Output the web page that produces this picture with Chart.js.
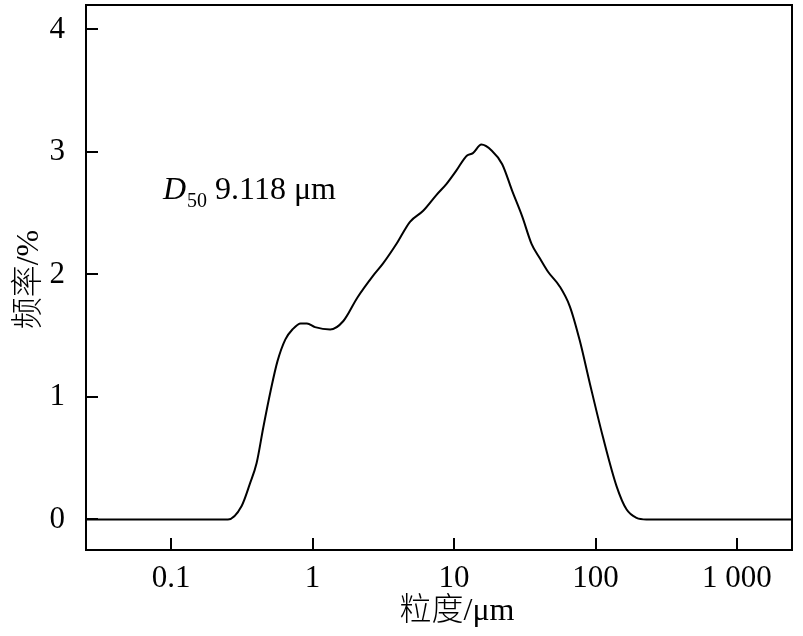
<!DOCTYPE html>
<html>
<head>
<meta charset="utf-8">
<script src="https://cdn.jsdelivr.net/npm/chart.js@4/dist/chart.umd.min.js"></script>
<style>
  html, body { margin: 0; padding: 0; background: #fff; }
  #wrap { width: 803px; height: 636px; }
</style>
</head>
<body>
<div id="wrap"><canvas id="psdChart"></canvas></div>
<script>
// particle size (um) and frequency (%)
const sizes = [0.025, 0.252, 0.315, 0.360, 0.402, 0.448, 0.505, 0.564, 0.642, 0.720,
               0.824, 0.912, 1.04, 1.33, 1.65, 2.07, 2.68, 3.15, 3.92, 4.88,
               6.05, 7.52, 8.85, 10.4, 12.3, 13.6, 15.6, 18.5, 21.9, 25.8,
               30.4, 35.3, 40.5, 46.3, 56.0, 65.8, 77.4, 91.2, 113, 141,
               166, 195, 229, 2450];
const freq = [0, 0, 0.11, 0.29, 0.46, 0.75, 1.05, 1.29, 1.47, 1.55,
              1.60, 1.60, 1.57, 1.55, 1.62, 1.81, 1.99, 2.09, 2.25, 2.43,
              2.52, 2.65, 2.74, 2.85, 2.97, 2.99, 3.06, 3.01, 2.90, 2.68,
              2.47, 2.25, 2.13, 2.02, 1.90, 1.74, 1.46, 1.11, 0.67, 0.27,
              0.08, 0.013, 0, 0];

const xTicks = [0.1, 1, 10, 100, 1000];
const xTickLabels = ['0.1', '1', '10', '100', '1 000'];
const yTicks = [0, 1, 2, 3, 4];
const xTitle = '粒度/μm';
const yTitle = '频率/%';

const SERIF = '"Liberation Serif", "Times New Roman", serif';
const TITLE_FONT = '300 32px "Liberation Serif", "Noto Sans CJK SC", serif';

// box round the plot, inward tick marks, axis titles and the D50 note
const framePlugin = {
    id: 'frame',
    afterDraw(chart) {
        const ctx = chart.ctx;
        const a = chart.chartArea;
        const xs = chart.scales.x;
        const ys = chart.scales.y;
        ctx.save();
        ctx.strokeStyle = '#000';
        ctx.lineWidth = 2;
        ctx.strokeRect(a.left, a.top, a.right - a.left, a.bottom - a.top);

        ctx.beginPath();
        xs.ticks.forEach(t => {
            const px = Math.round(xs.getPixelForValue(t.value));
            ctx.moveTo(px, a.bottom);
            ctx.lineTo(px, a.bottom - 12);
        });
        ys.ticks.forEach(t => {
            const py = Math.round(ys.getPixelForValue(t.value));
            ctx.moveTo(a.left, py);
            ctx.lineTo(a.left + 12, py);
        });
        ctx.stroke();

        // axis titles
        ctx.fillStyle = '#000';
        ctx.font = TITLE_FONT;
        ctx.textAlign = 'center';
        ctx.textBaseline = 'middle';
        ctx.fillText(xTitle, (a.left + a.right) / 2 + 18, 612);
        ctx.save();
        ctx.translate(30, (a.top + a.bottom) / 2 + 2);
        ctx.rotate(-Math.PI / 2);
        ctx.fillText(yTitle, 0, 0);
        ctx.restore();

        // D50 note
        ctx.textAlign = 'left';
        ctx.textBaseline = 'alphabetic';
        let tx = xs.getPixelForValue(0.0875);
        const ty = ys.getPixelForValue(2.62);
        ctx.font = 'italic 32px ' + SERIF;
        ctx.fillText('D', tx, ty);
        tx += ctx.measureText('D').width + 1;
        ctx.font = '20px ' + SERIF;
        ctx.fillText('50', tx, ty + 8);
        tx += ctx.measureText('50').width;
        ctx.font = '32px ' + SERIF;
        ctx.fillText(' 9.118 \u03bcm', tx, ty);
        ctx.restore();
    }
};

function noEdgePadding(scale) {
    scale.paddingTop = 0;
    scale.paddingBottom = 0;
    scale.paddingLeft = 0;
    scale.paddingRight = 0;
}

new Chart(document.getElementById('psdChart'), {
    type: 'line',
    data: {
        datasets: [{
            data: sizes.map((s, i) => ({ x: s, y: freq[i] })),
            borderColor: '#000',
            borderWidth: 2,
            pointRadius: 0,
            fill: false,
            cubicInterpolationMode: 'monotone'
        }]
    },
    options: {
        responsive: true,
        maintainAspectRatio: false,
        animation: false,
        layout: {
            padding: { top: 5, right: 11, left: 0, bottom: 0 }
        },
        plugins: {
            legend: { display: false },
            tooltip: { enabled: false }
        },
        scales: {
            x: {
                type: 'logarithmic',
                min: 0.025,
                max: 2450,
                afterBuildTicks: scale => {
                    scale.ticks = xTicks.map(v => ({ value: v }));
                },
                afterFit: scale => {
                    scale.height = 86;
                    noEdgePadding(scale);
                },
                grid: { display: false },
                border: { display: false },
                ticks: {
                    color: '#000',
                    font: { family: SERIF, size: 31 },
                    padding: 2,
                    maxRotation: 0,
                    autoSkip: false,
                    callback: (v, i) => xTickLabels[i]
                }
            },
            y: {
                min: -0.25,
                max: 4.2,
                afterBuildTicks: scale => {
                    scale.ticks = yTicks.map(v => ({ value: v }));
                },
                afterFit: scale => {
                    scale.width = 86;
                    noEdgePadding(scale);
                },
                grid: { display: false },
                border: { display: false },
                ticks: {
                    color: '#000',
                    font: { family: SERIF, size: 31 },
                    padding: 13
                }
            }
        }
    },
    plugins: [framePlugin]
});
</script>
</body>
</html>
